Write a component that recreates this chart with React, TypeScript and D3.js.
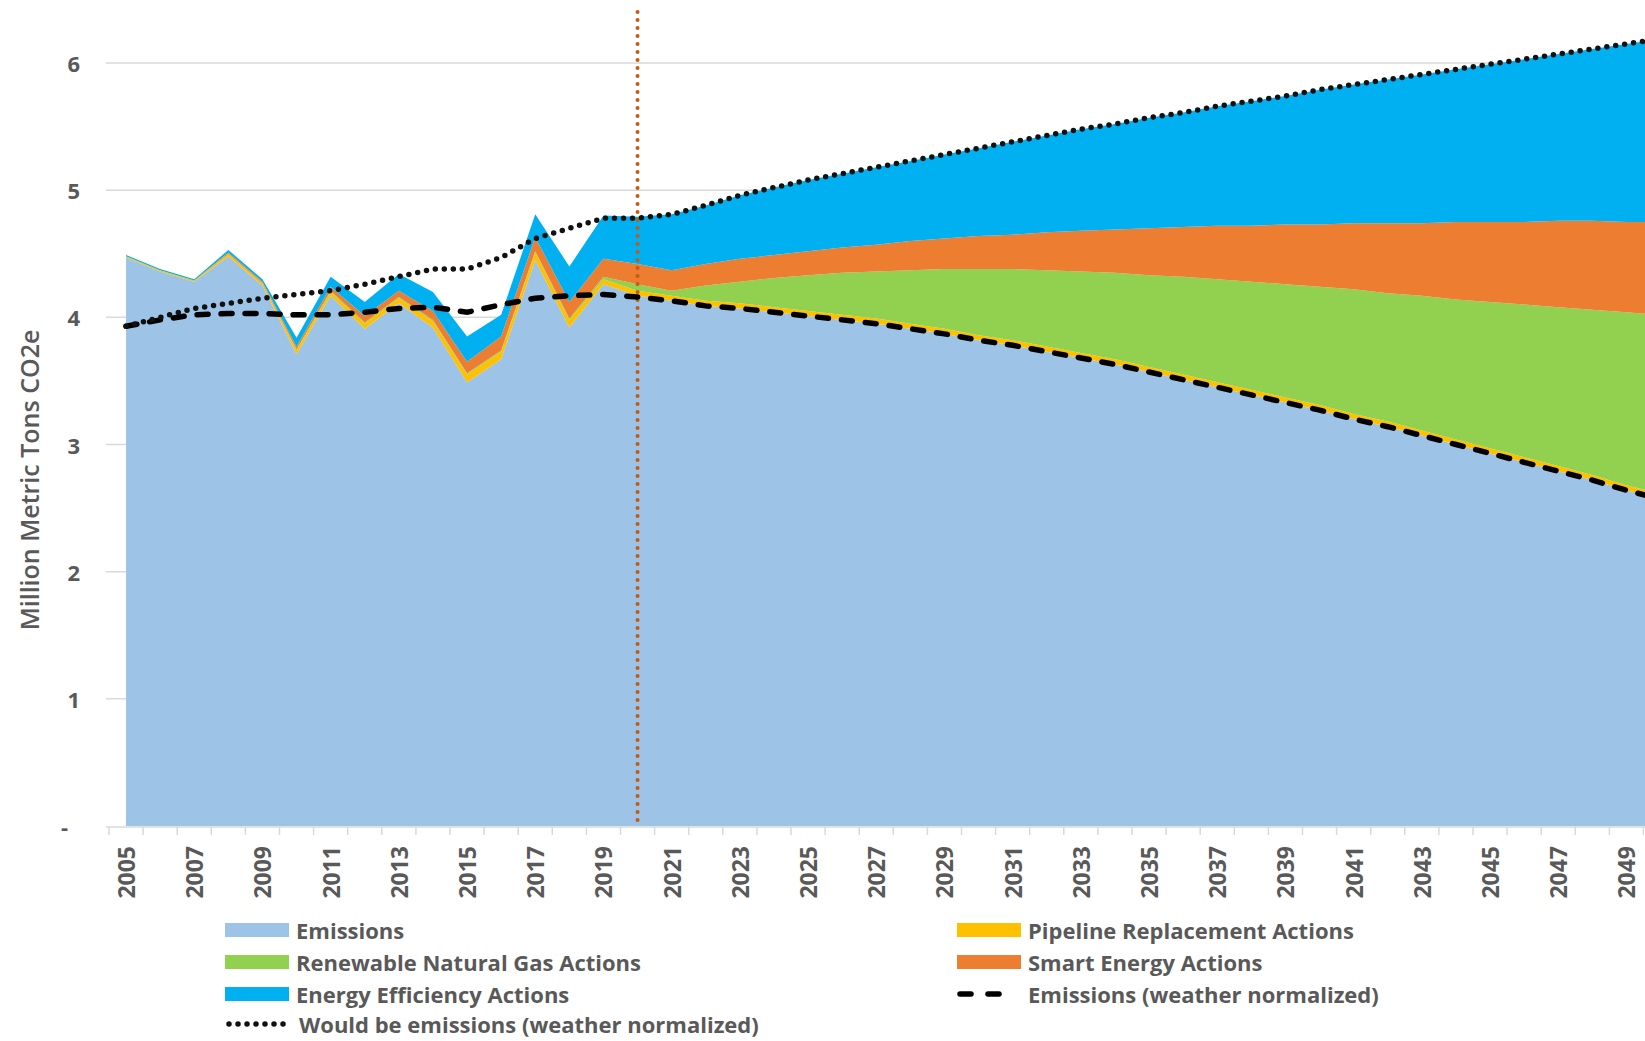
import * as d3 from 'd3';
import React, { useEffect, useRef } from 'react';

const years = d3.range(2005, 2051);

// stacked series, bottom to top
const emissions = [
  4.47, 4.36, 4.28, 4.48, 4.25, 3.71, 4.17, 3.91, 4.11, 3.92, 3.49, 3.67, 4.45, 3.92, 4.26, 4.17,
  4.13, 4.09, 4.07, 4.04, 4.01, 3.98, 3.95, 3.91, 3.87, 3.82, 3.78, 3.73, 3.68, 3.63, 3.57,
  3.51, 3.45, 3.39, 3.33, 3.27, 3.2, 3.14, 3.07, 3.0, 2.93, 2.86, 2.79, 2.72, 2.64, 2.57,
];
const pipeline = [
  0.01, 0.01, 0.01, 0.02, 0.02, 0.03, 0.03, 0.04, 0.04, 0.05, 0.06, 0.06, 0.06, 0.06, 0.04, 0.04,
  0.04, 0.04, 0.04, 0.04, 0.04, 0.04, 0.04, 0.04, 0.04, 0.04, 0.04, 0.04, 0.04, 0.04, 0.04,
  0.04, 0.04, 0.04, 0.04, 0.04, 0.04, 0.04, 0.04, 0.04, 0.04, 0.04, 0.04, 0.04, 0.04, 0.04,
];
const renewableGas = [
  0, 0, 0, 0, 0, 0.01, 0.01, 0.01, 0.01, 0.01, 0.01, 0.01, 0.01, 0.01, 0.02, 0.05,
  0.04, 0.12, 0.17, 0.23, 0.28, 0.33, 0.37, 0.42, 0.47, 0.52, 0.56, 0.6, 0.64, 0.68, 0.72,
  0.77, 0.81, 0.85, 0.89, 0.93, 0.98, 1.01, 1.06, 1.1, 1.15, 1.2, 1.25, 1.3, 1.36, 1.41,
];
const smartEnergy = [
  0, 0, 0, 0.01, 0.01, 0.02, 0.03, 0.05, 0.05, 0.07, 0.09, 0.11, 0.11, 0.13, 0.14, 0.16,
  0.16, 0.17, 0.18, 0.18, 0.19, 0.2, 0.21, 0.23, 0.24, 0.26, 0.27, 0.3, 0.32, 0.34, 0.37,
  0.39, 0.42, 0.44, 0.47, 0.49, 0.52, 0.55, 0.57, 0.61, 0.63, 0.65, 0.68, 0.7, 0.71, 0.73,
];
const efficiency = [
  0.01, 0.01, 0.01, 0.02, 0.02, 0.07, 0.08, 0.11, 0.13, 0.15, 0.2, 0.17, 0.18, 0.28, 0.34, 0.37,
  0.44, 0.46, 0.5, 0.53, 0.56, 0.58, 0.61, 0.63, 0.66, 0.69, 0.73, 0.76, 0.8, 0.83, 0.87,
  0.9, 0.94, 0.98, 1.01, 1.06, 1.09, 1.13, 1.17, 1.2, 1.24, 1.28, 1.31, 1.35, 1.4, 1.44,
];

// line series
const weatherNormalized = [
  3.93, 3.98, 4.02, 4.03, 4.03, 4.02, 4.02, 4.04, 4.07, 4.08, 4.04, 4.1, 4.15, 4.17, 4.18, 4.16,
  4.13, 4.09, 4.07, 4.04, 4.01, 3.98, 3.95, 3.91, 3.87, 3.82, 3.78, 3.73, 3.68, 3.63, 3.57,
  3.51, 3.45, 3.39, 3.33, 3.27, 3.2, 3.14, 3.07, 3.0, 2.93, 2.86, 2.79, 2.72, 2.64, 2.57,
];
const wouldBe = [
  3.93, 4.0, 4.07, 4.11, 4.15, 4.18, 4.21, 4.26, 4.32, 4.38, 4.38, 4.47, 4.62, 4.7, 4.78, 4.78,
  4.81, 4.88, 4.96, 5.02, 5.08, 5.13, 5.18, 5.23, 5.28, 5.33, 5.38, 5.43, 5.48, 5.52, 5.57,
  5.61, 5.66, 5.7, 5.74, 5.79, 5.83, 5.87, 5.91, 5.95, 5.99, 6.03, 6.07, 6.11, 6.15, 6.19,
];

const yTicks = [0, 1, 2, 3, 4, 5, 6];
const forecastYear = 2020;

const keys = ['emissions', 'pipeline', 'renewableGas', 'smartEnergy', 'efficiency'];
const colors: Record<string, string> = {
  emissions: '#9dc3e6',
  pipeline: '#ffc000',
  renewableGas: '#92d050',
  smartEnergy: '#ed7d31',
  efficiency: '#00b0f0',
};

const W = 1645;
const H = 1041;
const FONT = '"Open Sans", sans-serif';
const GREY = '#595959';

function App() {
  const svgRef = useRef<SVGSVGElement>(null);

  useEffect(() => {
    const svg = d3.select(svgRef.current);
    svg.selectAll('*').remove();

    const rows = years.map((yr, i) => ({
      year: yr,
      emissions: emissions[i],
      pipeline: pipeline[i],
      renewableGas: renewableGas[i],
      smartEnergy: smartEnergy[i],
      efficiency: efficiency[i],
    }));

    // category axis, points sit between tick marks
    const x = d3.scaleLinear().domain([2004.5, 2050.5]).range([109, 109 + 46 * 34.1]);
    const y = d3.scaleLinear().domain([0, 6]).range([826, 63]);

    // gridlines
    svg
      .append('g')
      .selectAll('line')
      .data(yTicks.filter((d) => d > 0))
      .join('line')
      .attr('x1', 106)
      .attr('x2', W)
      .attr('y1', (d) => y(d))
      .attr('y2', (d) => y(d))
      .attr('stroke', '#d9d9d9')
      .attr('stroke-width', 1.5);

    const stacked = d3.stack<any>().keys(keys)(rows);
    const area = d3
      .area<any>()
      .x((d) => x(d.data.year))
      .y0((d) => y(d[0]))
      .y1((d) => y(d[1]));

    svg
      .append('g')
      .selectAll('path')
      .data(stacked)
      .join('path')
      .attr('d', (d) => area(d))
      .attr('fill', (d) => colors[d.key]);

    // x axis
    const xAxis = svg.append('g');
    xAxis
      .append('line')
      .attr('x1', 106)
      .attr('x2', W)
      .attr('y1', y(0) + 1)
      .attr('y2', y(0) + 1)
      .attr('stroke', '#d9d9d9')
      .attr('stroke-width', 1.5);
    xAxis
      .selectAll('line.tick')
      .data(d3.range(2004.5, 2051.5, 1))
      .join('line')
      .attr('class', 'tick')
      .attr('x1', (d) => x(d))
      .attr('x2', (d) => x(d))
      .attr('y1', y(0) + 1)
      .attr('y2', y(0) + 9)
      .attr('stroke', '#d9d9d9')
      .attr('stroke-width', 1.5);
    xAxis
      .selectAll('text')
      .data(years.filter((d) => (d - 2005) % 2 === 0))
      .join('text')
      .attr('transform', (d) => `translate(${x(d)},846) rotate(-90)`)
      .attr('text-anchor', 'end')
      .attr('dominant-baseline', 'central')
      .attr('font-family', FONT)
      .attr('font-weight', 700)
      .attr('font-size', 23)
      .attr('fill', GREY)
      .text((d) => String(d));

    // y axis labels
    svg
      .append('g')
      .selectAll('text')
      .data(yTicks)
      .join('text')
      .attr('x', (d) => (d === 0 ? 68 : 80))
      .attr('y', (d) => y(d))
      .attr('text-anchor', 'end')
      .attr('dominant-baseline', 'central')
      .attr('font-family', FONT)
      .attr('font-weight', 700)
      .attr('font-size', 22)
      .attr('fill', GREY)
      .text((d) => (d === 0 ? '-' : String(d)));

    svg
      .append('text')
      .attr('transform', `translate(29,480) rotate(-90)`)
      .attr('text-anchor', 'middle')
      .attr('dominant-baseline', 'central')
      .attr('font-family', FONT)
      .attr('font-weight', 600)
      .attr('font-size', 25)
      .attr('fill', GREY)
      .text('Million Metric Tons CO2e');

    // forecast divider
    svg
      .append('line')
      .attr('x1', x(forecastYear))
      .attr('x2', x(forecastYear))
      .attr('y1', 12)
      .attr('y2', y(0) + 2)
      .attr('stroke', '#c55a11')
      .attr('stroke-width', 4)
      .attr('stroke-linecap', 'round')
      .attr('stroke-dasharray', '0 8');

    const line = d3
      .line<number>()
      .x((d, i) => x(years[i]))
      .y((d) => y(d));

    svg
      .append('path')
      .attr('d', line(weatherNormalized))
      .attr('fill', 'none')
      .attr('stroke', '#000')
      .attr('stroke-width', 5.5)
      .attr('stroke-linecap', 'round')
      .attr('stroke-dasharray', '11 13');

    svg
      .append('path')
      .attr('d', line(wouldBe))
      .attr('fill', 'none')
      .attr('stroke', '#111')
      .attr('stroke-width', 5.5)
      .attr('stroke-linecap', 'round')
      .attr('stroke-dasharray', '0 9');

    // legend
    const legend = [
      { label: 'Emissions', key: 'emissions', col: 0, row: 0 },
      { label: 'Pipeline Replacement Actions', key: 'pipeline', col: 1, row: 0 },
      { label: 'Renewable Natural Gas Actions', key: 'renewableGas', col: 0, row: 1 },
      { label: 'Smart Energy Actions', key: 'smartEnergy', col: 1, row: 1 },
      { label: 'Energy Efficiency Actions', key: 'efficiency', col: 0, row: 2 },
      { label: 'Emissions (weather normalized)', key: 'dash', col: 1, row: 2 },
      { label: 'Would be emissions (weather normalized)', key: 'dot', col: 0, row: 3 },
    ];
    const rowY = [930, 962, 994, 1024];
    const colX = [225, 957];

    const lg = svg.append('g');
    legend.forEach((e) => {
      const cx = colX[e.col];
      const cy = rowY[e.row];
      if (e.key === 'dash') {
        lg.append('line')
          .attr('x1', cx + 3)
          .attr('x2', cx + 48)
          .attr('y1', cy)
          .attr('y2', cy)
          .attr('stroke', '#000')
          .attr('stroke-width', 5.5)
          .attr('stroke-linecap', 'round')
          .attr('stroke-dasharray', '11 17');
      } else if (e.key === 'dot') {
        lg.append('line')
          .attr('x1', cx + 4)
          .attr('x2', cx + 64)
          .attr('y1', cy)
          .attr('y2', cy)
          .attr('stroke', '#111')
          .attr('stroke-width', 5.5)
          .attr('stroke-linecap', 'round')
          .attr('stroke-dasharray', '0 9');
      } else {
        lg.append('rect')
          .attr('x', cx)
          .attr('y', cy - 7)
          .attr('width', 64)
          .attr('height', 14)
          .attr('fill', colors[e.key]);
      }
      lg.append('text')
        .attr('x', cx + (e.key === 'dot' ? 74 : 71))
        .attr('y', cy)
        .attr('dominant-baseline', 'central')
        .attr('font-family', FONT)
        .attr('font-weight', 700)
        .attr('font-size', 22)
        .attr('fill', GREY)
        .text(e.label);
    });
  }, []);

  return (
    <svg
      ref={svgRef}
      width={W}
      height={H}
      style={{ position: 'absolute', left: 0, top: 0, background: '#fff' }}
    />
  );
}

export default App;
